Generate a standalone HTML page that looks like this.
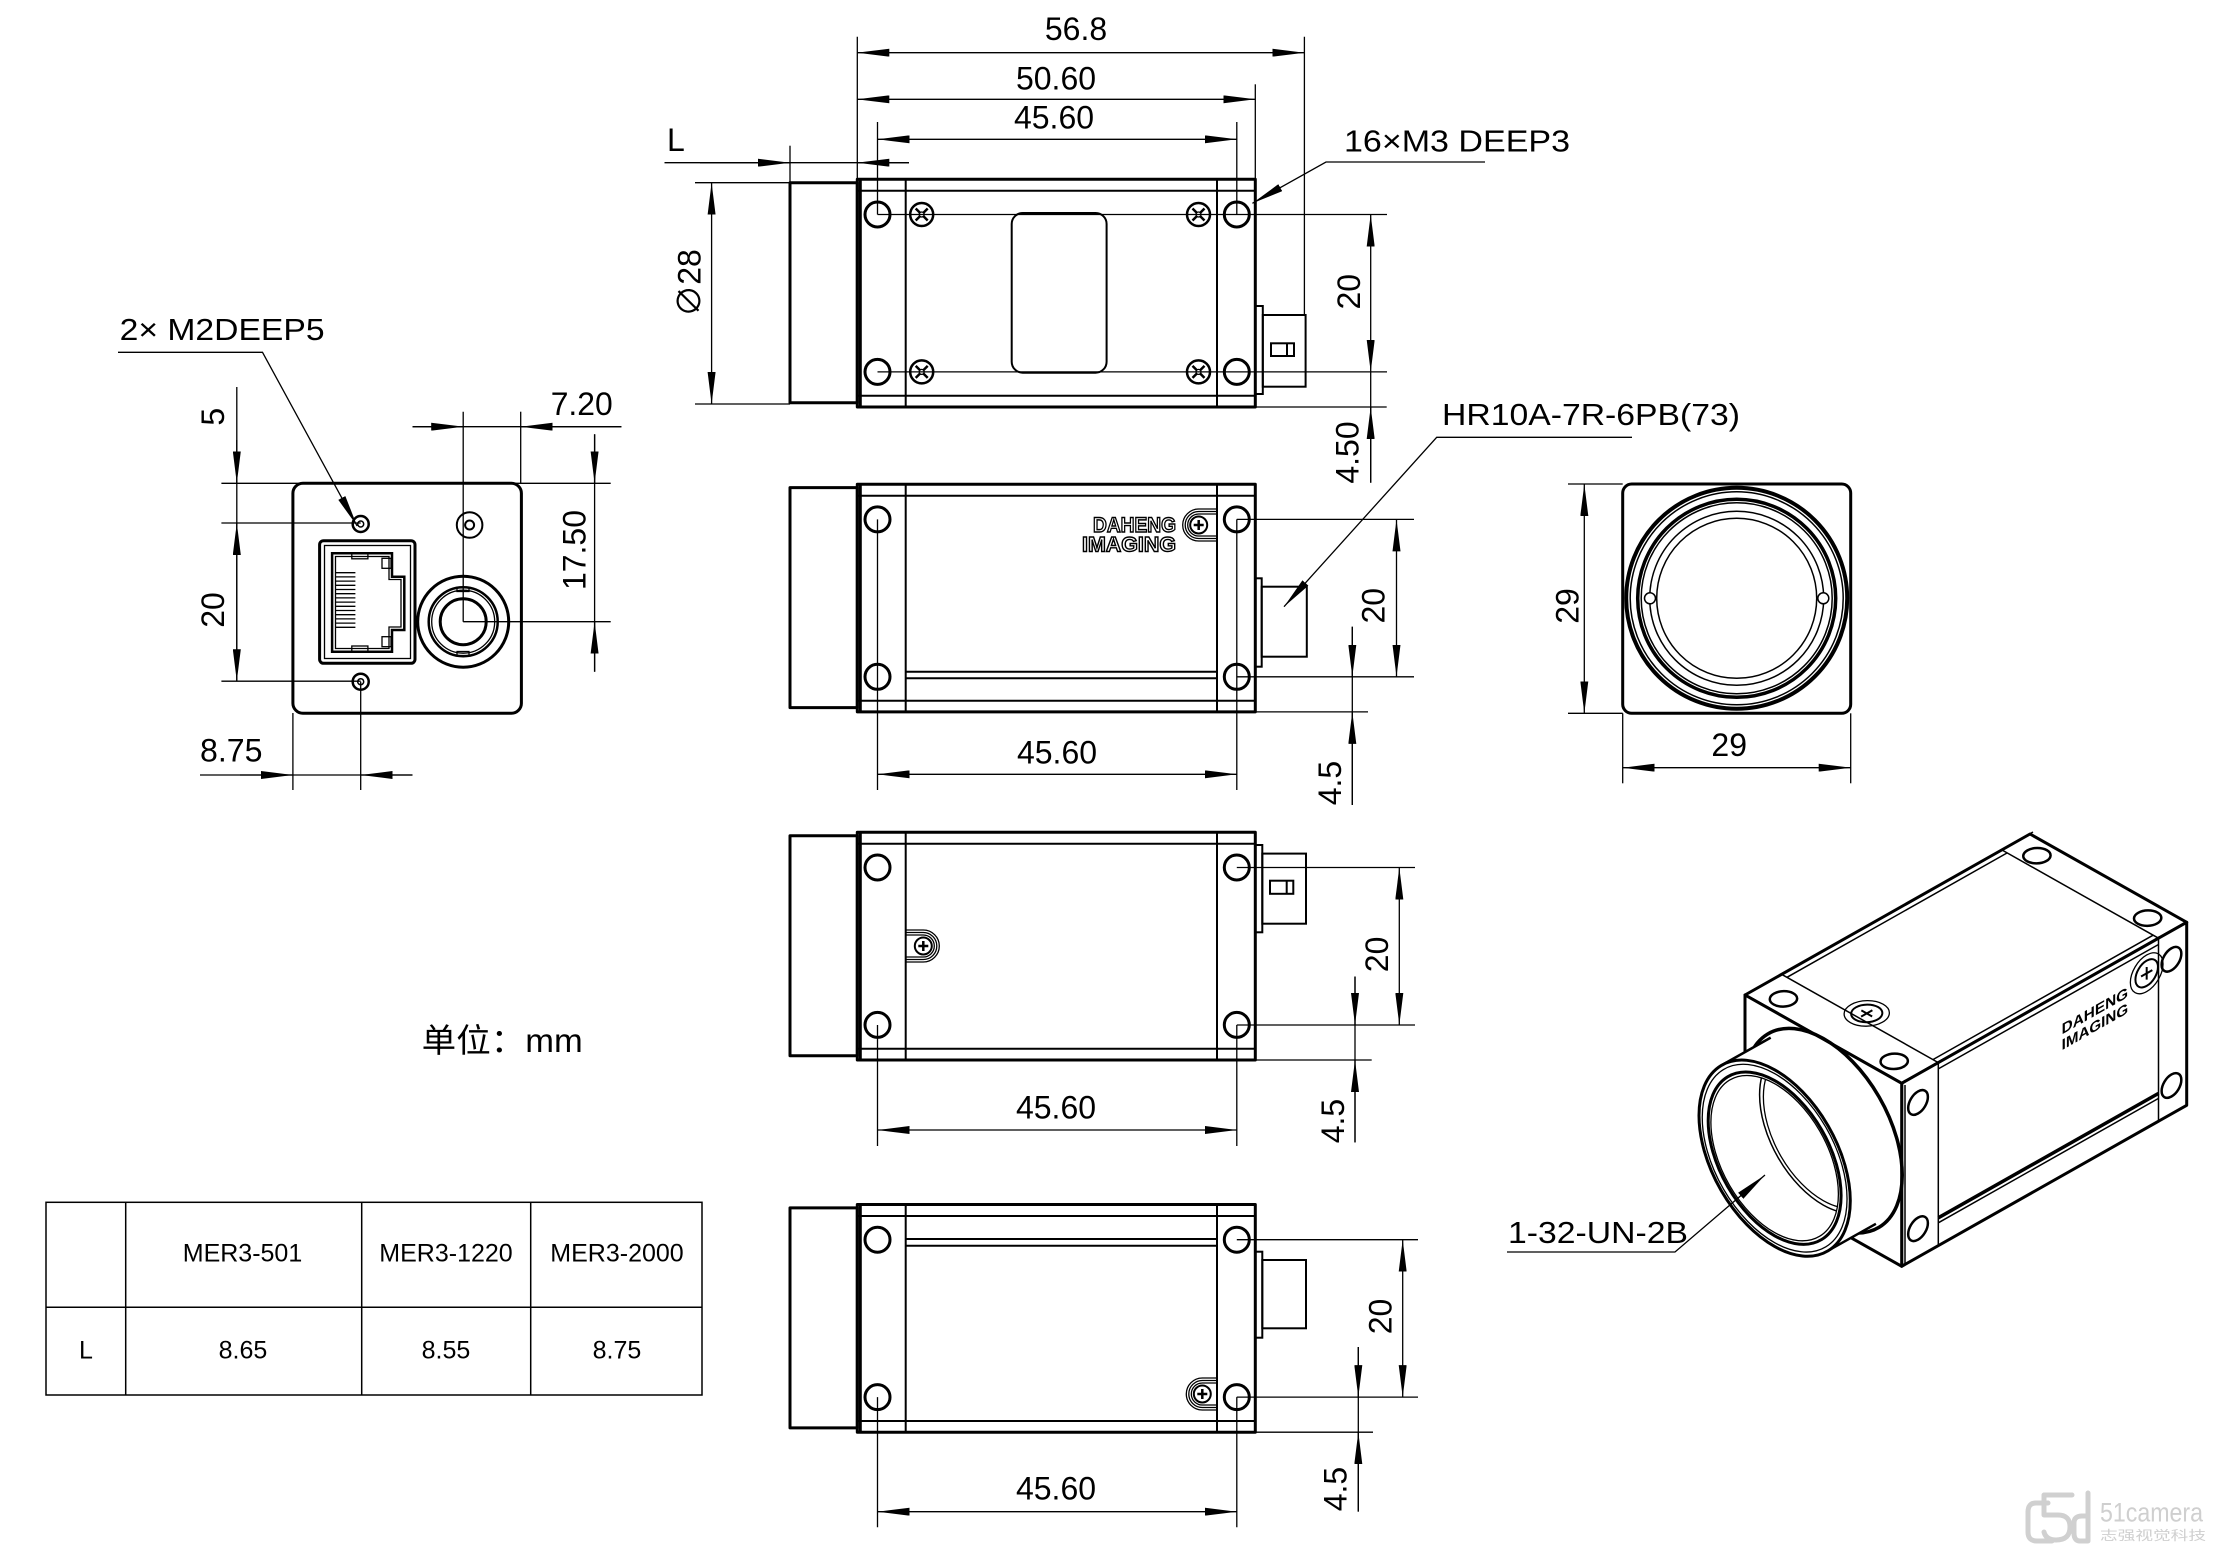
<!DOCTYPE html>
<html><head><meta charset="utf-8"><title>Camera dimension drawing</title>
<style>
html,body{margin:0;padding:0;background:#fff;}
svg{display:block;}
text{font-family:"Liberation Sans","Noto Sans CJK SC",sans-serif;fill:#000;}
.k{fill:none;stroke:#000;stroke-width:3;stroke-linejoin:round;}
.kw{fill:#fff;stroke:#000;stroke-width:3;stroke-linejoin:round;}
.m{fill:none;stroke:#000;stroke-width:2;}
.t{fill:none;stroke:#000;stroke-width:1.3;}
.d{font-size:32px;}
.lb{font-size:31px;}
.tb{font-size:25px;}
</style></head><body>
<svg width="2218" height="1553" viewBox="0 0 2218 1553" xmlns="http://www.w3.org/2000/svg">
<defs>
<marker id="ar" markerUnits="userSpaceOnUse" markerWidth="32" markerHeight="8" viewBox="0 0 32 8" refX="32" refY="4" orient="auto-start-reverse"><path d="M0,0L32,4L0,8z" fill="#000"/></marker>
<g id="s1"><circle r="11.5" fill="#fff" stroke="#000" stroke-width="2.5"/><path d="M-6,-6L6,6M-6,6L6,-6" stroke="#000" stroke-width="2.5"/><circle r="2.5" fill="#fff" stroke="#000" stroke-width="1.3"/></g>
<g id="s2"><circle r="8.5" fill="#fff" stroke="#000" stroke-width="2"/><path d="M-5,0H5M0,-5V5" stroke="#000" stroke-width="2.5"/></g>
<g id="body">
<rect x="790" y="3.4" width="67.3" height="220" class="k"/>
<rect x="857.3" y="0" width="398" height="227.7" class="k"/>
<line x1="860.3" y1="0" x2="860.3" y2="227.7" stroke="#000" stroke-width="3"/>
<line x1="857.3" y1="11.5" x2="1255.3" y2="11.5" class="m"/>
<line x1="857.3" y1="216.5" x2="1255.3" y2="216.5" class="m"/>
<line x1="905.7" y1="0" x2="905.7" y2="227.7" class="m"/>
<line x1="1217" y1="0" x2="1217" y2="227.7" class="m"/>
<circle cx="877.5" cy="35.2" r="12.5" class="k"/>
<circle cx="877.5" cy="192.6" r="12.5" class="k"/>
<circle cx="1236.8" cy="35.2" r="12.5" class="k"/>
<circle cx="1236.8" cy="192.6" r="12.5" class="k"/>
</g>
<clipPath id="lc"><circle cx="14.5" cy="14.5" r="11.8" transform="matrix(5.403 3.045 0 6.31 1696.3 1022.5)"/></clipPath>
</defs>

<!-- ================= TOP VIEW ================= -->
<g transform="translate(0,179.3)">
<use href="#body"/>
<rect x="1011.7" y="33.7" width="94.9" height="159.7" rx="11" class="m"/>
<use href="#s1" x="921.7" y="35.2"/>
<use href="#s1" x="1198.5" y="35.2"/>
<use href="#s1" x="921.7" y="192.6"/>
<use href="#s1" x="1198.5" y="192.6"/>
<rect x="1255.3" y="126.7" width="7.5" height="88" class="m"/>
<rect x="1262.8" y="135.7" width="42.8" height="71.7" class="m"/>
<rect x="1271" y="164" width="23" height="12.7" class="m"/>
<line x1="1287" y1="164" x2="1287" y2="176.7" class="m"/>
</g>
<g class="t">
<line x1="877.5" y1="214.5" x2="1387" y2="214.5"/>
<line x1="877.5" y1="371.9" x2="1387" y2="371.9"/>
<line x1="857.3" y1="36.7" x2="857.3" y2="179"/>
<line x1="1304.4" y1="36.7" x2="1304.4" y2="315"/>
<line x1="1255.3" y1="84.3" x2="1255.3" y2="179"/>
<line x1="877.5" y1="122" x2="877.5" y2="214.5"/>
<line x1="1236.8" y1="122" x2="1236.8" y2="214.5"/>
<line x1="857.3" y1="52.7" x2="1304.4" y2="52.7" marker-start="url(#ar)" marker-end="url(#ar)"/>
<line x1="857.3" y1="99.3" x2="1255.3" y2="99.3" marker-start="url(#ar)" marker-end="url(#ar)"/>
<line x1="877.5" y1="139.3" x2="1236.8" y2="139.3" marker-start="url(#ar)" marker-end="url(#ar)"/>
<!-- L -->
<line x1="664.5" y1="162.7" x2="909" y2="162.7"/>
<line x1="700" y1="162.7" x2="790" y2="162.7" marker-end="url(#ar)"/>
<line x1="909" y1="162.7" x2="857.3" y2="162.7" marker-end="url(#ar)"/>
<line x1="790" y1="145.7" x2="790" y2="182.7"/>
<!-- dia 28 -->
<line x1="695" y1="182.7" x2="790" y2="182.7"/>
<line x1="695" y1="404" x2="790" y2="404"/>
<line x1="711.6" y1="182.7" x2="711.6" y2="404" marker-start="url(#ar)" marker-end="url(#ar)"/>
<!-- 20 / 4.50 -->
<line x1="1370.7" y1="214.5" x2="1370.7" y2="371.9" marker-start="url(#ar)" marker-end="url(#ar)"/>
<line x1="1255.3" y1="407" x2="1386.7" y2="407"/>
<line x1="1370.7" y1="371.9" x2="1370.7" y2="482.7"/>
<line x1="1370.7" y1="482.7" x2="1370.7" y2="407" marker-end="url(#ar)"/>
<!-- 16xM3 leader -->
<polyline points="1485,162 1326,162 1252.4,203.3" marker-end="url(#ar)"/>
</g>
<text class="d" x="1076" y="40" text-anchor="middle">56.8</text>
<text class="d" x="1056" y="89.3" text-anchor="middle">50.60</text>
<text class="d" x="1054" y="128.3" text-anchor="middle">45.60</text>
<text class="d" x="667" y="151">L</text>
<text class="d" x="689" y="294.5" text-anchor="middle" transform="rotate(-90 689 283)">∅28</text>
<text class="d" x="1348.3" y="303.2" text-anchor="middle" transform="rotate(-90 1348.3 291.7)">20</text>
<text class="d" x="1347" y="464" text-anchor="middle" transform="rotate(-90 1347 452.5)">4.50</text>
<text class="lb" x="1344" y="151.5" textLength="226" lengthAdjust="spacingAndGlyphs">16×M3 DEEP3</text>

<!-- ================= REAR VIEW ================= -->
<rect x="292.9" y="483.3" width="228.5" height="230" rx="10" class="k"/>
<circle cx="360.7" cy="524" r="8" fill="none" stroke="#000" stroke-width="2.5"/>
<circle cx="360.7" cy="524" r="3" fill="none" stroke="#000" stroke-width="1.5"/>
<circle cx="360.7" cy="681.7" r="8" fill="none" stroke="#000" stroke-width="2.5"/>
<circle cx="360.7" cy="681.7" r="3" fill="none" stroke="#000" stroke-width="1.5"/>
<circle cx="469.6" cy="525" r="12.8" fill="none" stroke="#000" stroke-width="2"/>
<circle cx="469.6" cy="525" r="4.5" fill="none" stroke="#000" stroke-width="2"/>
<!-- RJ45 -->
<rect x="319.6" y="540.7" width="95.4" height="122.6" rx="4" class="k"/>
<rect x="324.5" y="545.5" width="86" height="113" class="t"/>
<path d="M332.1,553.3H392V576.7H404.3V630H392V651.7H332.1Z" fill="none" stroke="#000" stroke-width="2.5"/>
<path d="M335.5,556.5H389V579.5H401V627H389V648.5H335.5Z" class="t"/>
<rect x="351.8" y="553.3" width="16.1" height="5.5" class="t"/>
<rect x="351.8" y="646" width="16.1" height="5.7" class="t"/>
<rect x="382" y="558.3" width="9" height="10" class="t"/>
<rect x="382" y="636.7" width="9" height="10" class="t"/>
<path d="M335.7,572.7H355.4M335.7,576.9H355.4M335.7,581.1H355.4M335.7,585.3H355.4M335.7,589.5H355.4M335.7,593.7H355.4M335.7,597.9H355.4M335.7,602.1H355.4M335.7,606.3H355.4M335.7,610.5H355.4M335.7,614.7H355.4M335.7,618.9H355.4M335.7,623.1H355.4M335.7,627.3H355.4" class="t"/>
<!-- round connector -->
<circle cx="463.2" cy="621.7" r="45.5" fill="none" stroke="#000" stroke-width="3"/>
<circle cx="463.2" cy="621.7" r="34.5" fill="none" stroke="#000" stroke-width="2.5"/>
<circle cx="463.2" cy="621.7" r="31.5" class="t"/>
<circle cx="463.2" cy="621.7" r="23" fill="none" stroke="#000" stroke-width="3"/>
<rect x="457" y="587.5" width="12" height="4" class="t"/>
<rect x="457" y="651.5" width="12" height="4" class="t"/>
<g class="t">
<line x1="463.2" y1="411.7" x2="463.2" y2="621.7"/>
<line x1="463.2" y1="621.7" x2="610.7" y2="621.7"/>
<line x1="221.4" y1="483.3" x2="610.7" y2="483.3"/>
<line x1="221.4" y1="523" x2="360.7" y2="523"/>
<line x1="221.4" y1="681.2" x2="360.7" y2="681.2"/>
<line x1="520.7" y1="411.7" x2="520.7" y2="483.3"/>
<line x1="292.9" y1="713" x2="292.9" y2="790"/>
<line x1="360.7" y1="681.7" x2="360.7" y2="790"/>
<!-- 5 / 20 -->
<line x1="236.8" y1="387" x2="236.8" y2="681.2"/>
<line x1="236.8" y1="440" x2="236.8" y2="483.3" marker-end="url(#ar)"/>
<line x1="236.8" y1="523" x2="236.8" y2="681.2" marker-start="url(#ar)" marker-end="url(#ar)"/>
<!-- 7.20 -->
<line x1="412.5" y1="426.7" x2="621.4" y2="426.7"/>
<line x1="412.5" y1="426.7" x2="463.2" y2="426.7" marker-end="url(#ar)"/>
<line x1="621.4" y1="426.7" x2="520.7" y2="426.7" marker-end="url(#ar)"/>
<!-- 17.50 -->
<line x1="594.6" y1="434.3" x2="594.6" y2="671.7"/>
<line x1="594.6" y1="434.3" x2="594.6" y2="483.3" marker-end="url(#ar)"/>
<line x1="594.6" y1="671.7" x2="594.6" y2="621.7" marker-end="url(#ar)"/>
<!-- 8.75 -->
<line x1="200" y1="775" x2="412.5" y2="775"/>
<line x1="240" y1="775" x2="292.9" y2="775" marker-end="url(#ar)"/>
<line x1="412.5" y1="775" x2="360.7" y2="775" marker-end="url(#ar)"/>
<!-- leader -->
<polyline points="118,352.3 262.5,352.3 357.1,526" marker-end="url(#ar)"/>
</g>
<text class="lb" x="119.6" y="340" textLength="205" lengthAdjust="spacingAndGlyphs">2× M2DEEP5</text>
<text class="d" x="212.5" y="428.2" text-anchor="middle" transform="rotate(-90 212.5 416.7)">5</text>
<text class="d" x="212.5" y="621.5" text-anchor="middle" transform="rotate(-90 212.5 610)">20</text>
<text class="d" x="574" y="561.5" text-anchor="middle" transform="rotate(-90 574 550)">17.50</text>
<text class="d" x="550.7" y="415" textLength="62" lengthAdjust="spacingAndGlyphs">7.20</text>
<text class="d" x="200" y="761.7" textLength="62.5" lengthAdjust="spacingAndGlyphs">8.75</text>

<!-- ================= VIEW 2 ================= -->
<g transform="translate(0,484.2)">
<use href="#body"/>
<line x1="905.7" y1="187.5" x2="1217" y2="187.5" class="m"/>
<line x1="905.7" y1="194.1" x2="1217" y2="194.1" class="m"/>
<path d="M1217,29.8H1198.7A11,11 0 0 0 1198.7,51.8H1217M1217,27.3H1198.7A13.5,13.5 0 0 0 1198.7,54.3H1217M1217,24.8H1198.7A16,16 0 0 0 1198.7,56.8H1217" class="t"/>
<use href="#s2" x="1198.7" y="40.8"/>
<text x="1093" y="47.8" font-size="21" font-weight="bold" textLength="83" lengthAdjust="spacingAndGlyphs" style="fill:#fff;stroke:#000;stroke-width:1.4">DAHENG</text>
<text x="1082" y="67.5" font-size="21" font-weight="bold" textLength="94" lengthAdjust="spacingAndGlyphs" style="fill:#fff;stroke:#000;stroke-width:1.4">IMAGING</text>
<rect x="1255.3" y="94.1" width="6.4" height="88.4" class="m"/>
<rect x="1261.7" y="102.5" width="45.1" height="70" class="m"/>
</g>
<g class="t">
<line x1="1236.8" y1="519.4" x2="1414" y2="519.4"/>
<line x1="1236.8" y1="676.8" x2="1414" y2="676.8"/>
<line x1="1255.3" y1="711.9" x2="1368" y2="711.9"/>
<line x1="877.5" y1="519.4" x2="877.5" y2="790"/>
<line x1="1236.8" y1="519.4" x2="1236.8" y2="790"/>
<line x1="1396.5" y1="519.4" x2="1396.5" y2="676.8" marker-start="url(#ar)" marker-end="url(#ar)"/>
<line x1="1352.3" y1="626.7" x2="1352.3" y2="805"/>
<line x1="1352.3" y1="626.7" x2="1352.3" y2="676.8" marker-end="url(#ar)"/>
<line x1="1352.3" y1="805" x2="1352.3" y2="711.9" marker-end="url(#ar)"/>
<line x1="877.5" y1="774.3" x2="1236.8" y2="774.3" marker-start="url(#ar)" marker-end="url(#ar)"/>
<polyline points="1632,437.3 1436.7,437.3 1284,606.7" marker-end="url(#ar)"/>
</g>
<text class="d" x="1057" y="763.3" text-anchor="middle">45.60</text>
<text class="d" x="1373" y="617.2" text-anchor="middle" transform="rotate(-90 1373 605.7)">20</text>
<text class="d" x="1329.5" y="794.5" text-anchor="middle" transform="rotate(-90 1329.5 783)">4.5</text>
<text class="lb" x="1442" y="425" textLength="298" lengthAdjust="spacingAndGlyphs">HR10A-7R-6PB(73)</text>

<!-- ================= VIEW 3 ================= -->
<g transform="translate(0,832.3)">
<use href="#body"/>
<path d="M905.7,102.7H923.3A11,11 0 0 1 923.3,124.7H905.7M905.7,100.2H923.3A13.5,13.5 0 0 1 923.3,127.2H905.7M905.7,97.7H923.3A16,16 0 0 1 923.3,129.7H905.7" class="t"/>
<use href="#s2" x="923.3" y="113.7"/>
<rect x="1255.3" y="12.7" width="7" height="87.3" class="m"/>
<rect x="1262.3" y="21.3" width="43.7" height="70.1" class="m"/>
<rect x="1270" y="48.4" width="23.3" height="13.1" class="m"/>
<line x1="1286.7" y1="48.4" x2="1286.7" y2="61.5" class="m"/>
</g>
<g class="t">
<line x1="1236.8" y1="867.5" x2="1415" y2="867.5"/>
<line x1="1236.8" y1="1025" x2="1415" y2="1025"/>
<line x1="1255.3" y1="1060" x2="1371.7" y2="1060"/>
<line x1="877.5" y1="1025" x2="877.5" y2="1146"/>
<line x1="1236.8" y1="1025" x2="1236.8" y2="1146"/>
<line x1="1399.3" y1="867.5" x2="1399.3" y2="1025" marker-start="url(#ar)" marker-end="url(#ar)"/>
<line x1="1355" y1="976.5" x2="1355" y2="1142.4"/>
<line x1="1355" y1="976.5" x2="1355" y2="1025" marker-end="url(#ar)"/>
<line x1="1355" y1="1142.4" x2="1355" y2="1060" marker-end="url(#ar)"/>
<line x1="877.5" y1="1130" x2="1236.8" y2="1130" marker-start="url(#ar)" marker-end="url(#ar)"/>
</g>
<text class="d" x="1056" y="1118.3" text-anchor="middle">45.60</text>
<text class="d" x="1376.7" y="965.9" text-anchor="middle" transform="rotate(-90 1376.7 954.4)">20</text>
<text class="d" x="1332.5" y="1132.5" text-anchor="middle" transform="rotate(-90 1332.5 1121)">4.5</text>

<!-- ================= VIEW 4 ================= -->
<g transform="translate(0,1204.5)">
<use href="#body"/>
<line x1="905.7" y1="34.5" x2="1217" y2="34.5" class="m"/>
<line x1="905.7" y1="41.2" x2="1217" y2="41.2" class="m"/>
<path d="M1217,178.5H1202.3A11,11 0 0 0 1202.3,200.5H1217M1217,176H1202.3A13.5,13.5 0 0 0 1202.3,203H1217M1217,173.5H1202.3A16,16 0 0 0 1202.3,205.5H1217" class="t"/>
<use href="#s2" x="1202.3" y="189.5"/>
<rect x="1255.3" y="47.2" width="7" height="86" class="m"/>
<rect x="1262.3" y="55.5" width="43.7" height="68.3" class="m"/>
</g>
<g class="t">
<line x1="1236.8" y1="1239.7" x2="1418" y2="1239.7"/>
<line x1="1236.8" y1="1397.1" x2="1418" y2="1397.1"/>
<line x1="1255.3" y1="1432.2" x2="1373" y2="1432.2"/>
<line x1="877.5" y1="1397.1" x2="877.5" y2="1527.3"/>
<line x1="1236.8" y1="1397.1" x2="1236.8" y2="1527.3"/>
<line x1="1402.7" y1="1239.7" x2="1402.7" y2="1397.1" marker-start="url(#ar)" marker-end="url(#ar)"/>
<line x1="1358.3" y1="1347" x2="1358.3" y2="1511.6"/>
<line x1="1358.3" y1="1347" x2="1358.3" y2="1397.1" marker-end="url(#ar)"/>
<line x1="1358.3" y1="1511.6" x2="1358.3" y2="1432.2" marker-end="url(#ar)"/>
<line x1="877.5" y1="1511.7" x2="1236.8" y2="1511.7" marker-start="url(#ar)" marker-end="url(#ar)"/>
</g>
<text class="d" x="1056" y="1499.3" text-anchor="middle">45.60</text>
<text class="d" x="1380" y="1328" text-anchor="middle" transform="rotate(-90 1380 1316.5)">20</text>
<text class="d" x="1335" y="1500.5" text-anchor="middle" transform="rotate(-90 1335 1489)">4.5</text>

<!-- ================= FRONT VIEW ================= -->
<rect x="1622.7" y="484" width="228" height="229.3" rx="9" class="k"/>
<circle cx="1736.7" cy="598.3" r="110.5" fill="none" stroke="#000" stroke-width="4"/>
<circle cx="1736.7" cy="598.3" r="106.5" fill="none" stroke="#000" stroke-width="1.5"/>
<circle cx="1736.7" cy="598.3" r="99" fill="none" stroke="#000" stroke-width="3.5"/>
<circle cx="1736.7" cy="598.3" r="95.5" fill="none" stroke="#000" stroke-width="1.5"/>
<circle cx="1736.7" cy="598.3" r="87" fill="none" stroke="#000" stroke-width="1.5"/>
<circle cx="1736.7" cy="598.3" r="80" fill="none" stroke="#000" stroke-width="1.5"/>
<circle cx="1650" cy="598.3" r="5.5" fill="#fff" stroke="#000" stroke-width="1.5"/>
<circle cx="1823.3" cy="598.3" r="5.5" fill="#fff" stroke="#000" stroke-width="1.5"/>
<g class="t">
<line x1="1568" y1="484" x2="1622.7" y2="484"/>
<line x1="1568" y1="713.3" x2="1622.7" y2="713.3"/>
<line x1="1584.3" y1="484" x2="1584.3" y2="713.3" marker-start="url(#ar)" marker-end="url(#ar)"/>
<line x1="1622.7" y1="713.3" x2="1622.7" y2="783.3"/>
<line x1="1850.7" y1="713.3" x2="1850.7" y2="783.3"/>
<line x1="1622.7" y1="767.7" x2="1850.7" y2="767.7" marker-start="url(#ar)" marker-end="url(#ar)"/>
</g>
<text class="d" x="1729.2" y="756" text-anchor="middle">29</text>
<text class="d" x="1567" y="617.5" text-anchor="middle" transform="rotate(-90 1567 606)">29</text>

<!-- ================= ISOMETRIC VIEW ================= -->
<polygon points="1745,995 1901.7,1083.3 2186.7,922.3 2030,834" class="kw"/>
<polygon points="1901.7,1083.3 2186.7,922.3 2186.7,1105.3 1901.7,1266.3" class="kw"/>
<polygon points="1745,995 1901.7,1083.3 1901.7,1266.3 1745,1178" class="kw"/>
<g fill="none" stroke="#000" stroke-width="1.5">
<line x1="1781.6" y1="974.3" x2="1938.3" y2="1062.6"/>
<line x1="1938.3" y1="1062.6" x2="1938.3" y2="1245.6"/>
<line x1="2001.8" y1="849.9" x2="2158.5" y2="938.2"/>
<line x1="2158.5" y1="938.2" x2="2158.5" y2="1121.2"/>
<line x1="1787" y1="977.3" x2="2007.2" y2="852.9"/>
<line x1="1932.9" y1="1059.6" x2="2153.1" y2="935.2"/>
<line x1="1938.3" y1="1068.9" x2="2158.5" y2="944.5"/>
<line x1="1938.3" y1="1222.8" x2="2158.5" y2="1098.4"/>
<line x1="1905" y1="1085" x2="1905" y2="1264.5"/>
<line x1="1750" y1="992" x2="2033" y2="832"/>
</g>
<line x1="1938.3" y1="1217.8" x2="2158.5" y2="1093.4" stroke="#000" stroke-width="3.5"/>
<!-- top face -->
<g transform="matrix(5.403 3.045 5.632 -3.182 1745 995)">
<circle cx="4.2" cy="2.8" r="1.75" fill="none" stroke="#000" stroke-width="2.5" vector-effect="non-scaling-stroke"/>
<circle cx="24.7" cy="2.8" r="1.75" fill="none" stroke="#000" stroke-width="2.5" vector-effect="non-scaling-stroke"/>
<circle cx="4.2" cy="47.8" r="1.75" fill="none" stroke="#000" stroke-width="2.5" vector-effect="non-scaling-stroke"/>
<circle cx="24.7" cy="47.8" r="1.75" fill="none" stroke="#000" stroke-width="2.5" vector-effect="non-scaling-stroke"/>
<circle cx="14.3" cy="7.9" r="2.9" fill="none" stroke="#000" stroke-width="1.3" vector-effect="non-scaling-stroke"/>
<circle cx="14.3" cy="7.9" r="2" fill="none" stroke="#000" stroke-width="2" vector-effect="non-scaling-stroke"/>
<path d="M13.3,7.9H15.3M14.3,6.9V8.9" fill="none" stroke="#000" stroke-width="2" vector-effect="non-scaling-stroke"/>
</g>
<!-- right face -->
<g transform="matrix(5.632 -3.182 0 6.31 1901.7 1083.3)">
<circle cx="2.9" cy="4.5" r="1.75" fill="none" stroke="#000" stroke-width="2.5" vector-effect="non-scaling-stroke"/>
<circle cx="2.9" cy="24.5" r="1.75" fill="none" stroke="#000" stroke-width="2.5" vector-effect="non-scaling-stroke"/>
<circle cx="47.9" cy="4.5" r="1.75" fill="none" stroke="#000" stroke-width="2.5" vector-effect="non-scaling-stroke"/>
<circle cx="47.9" cy="24.5" r="1.75" fill="none" stroke="#000" stroke-width="2.5" vector-effect="non-scaling-stroke"/>
<circle cx="43.5" cy="4.5" r="2.9" fill="none" stroke="#000" stroke-width="1.3" vector-effect="non-scaling-stroke"/>
<circle cx="43.5" cy="4.5" r="2" fill="none" stroke="#000" stroke-width="2" vector-effect="non-scaling-stroke"/>
<path d="M42.5,4.5H44.5M43.5,3.5V5.5" fill="none" stroke="#000" stroke-width="2" vector-effect="non-scaling-stroke"/>
</g>
<g transform="matrix(0.5632 -0.3182 0 0.631 1901.7 1083.3)">
<text x="284" y="66" font-size="24" font-weight="bold" textLength="118" lengthAdjust="spacingAndGlyphs">DAHENG</text>
<text x="284" y="91" font-size="24" font-weight="bold" textLength="118" lengthAdjust="spacingAndGlyphs">IMAGING</text>
</g>
<!-- mount ring on front face -->
<g transform="matrix(5.403 3.045 0 6.31 1745 995)">
<circle cx="14.5" cy="14.5" r="14.6" fill="none" stroke="#000" stroke-width="3.5" vector-effect="non-scaling-stroke"/>
<circle cx="14.5" cy="14.5" r="14" fill="#fff" stroke="none"/>
</g>
<!-- lens barrel -->
<polygon points="1722,1065 1770.7,1037.6 1875.9,1223.8 1827.2,1251.2" fill="#fff" stroke="none"/>
<line x1="1722" y1="1065" x2="1770.7" y2="1037.6" stroke="#000" stroke-width="2.5"/>
<line x1="1827.2" y1="1251.2" x2="1875.9" y2="1223.8" stroke="#000" stroke-width="2.5"/>
<g transform="matrix(5.403 3.045 0 6.31 1696.3 1022.5)">
<circle cx="14.5" cy="14.5" r="14" fill="#fff" stroke="#000" stroke-width="3" vector-effect="non-scaling-stroke"/>
<circle cx="14.5" cy="14.5" r="13.4" fill="none" stroke="#000" stroke-width="1.3" vector-effect="non-scaling-stroke"/>
<circle cx="14.5" cy="14.5" r="12.3" fill="none" stroke="#000" stroke-width="3" vector-effect="non-scaling-stroke"/>
<circle cx="14.5" cy="14.5" r="11.8" fill="none" stroke="#000" stroke-width="1.3" vector-effect="non-scaling-stroke"/>
</g>
<g clip-path="url(#lc)">
<g transform="matrix(5.403 3.045 0 6.31 1745 995)">
<circle cx="14.5" cy="14.5" r="11.8" fill="none" stroke="#000" stroke-width="1.5" vector-effect="non-scaling-stroke"/>
<circle cx="14.5" cy="14.5" r="11.1" fill="none" stroke="#000" stroke-width="1.3" vector-effect="non-scaling-stroke"/>
</g>
</g>
<polyline points="1507,1252 1675,1252 1765,1175" class="t" marker-end="url(#ar)"/>
<text class="lb" x="1508" y="1243" textLength="180" lengthAdjust="spacingAndGlyphs">1-32-UN-2B</text>

<!-- ================= UNIT ================= -->
<text x="421.7" y="1052" font-size="33" textLength="161" lengthAdjust="spacingAndGlyphs">单位：mm</text>

<!-- ================= TABLE ================= -->
<g fill="none" stroke="#000" stroke-width="1.5">
<rect x="46" y="1202.3" width="656" height="192.7"/>
<line x1="46" y1="1307.3" x2="702" y2="1307.3"/>
<line x1="125.7" y1="1202.3" x2="125.7" y2="1395"/>
<line x1="361.7" y1="1202.3" x2="361.7" y2="1395"/>
<line x1="530.7" y1="1202.3" x2="530.7" y2="1395"/>
</g>
<text class="tb" x="242.5" y="1261.7" text-anchor="middle">MER3-501</text>
<text class="tb" x="446" y="1261.7" text-anchor="middle">MER3-1220</text>
<text class="tb" x="617" y="1261.7" text-anchor="middle">MER3-2000</text>
<text class="tb" x="86" y="1358.3" text-anchor="middle">L</text>
<text class="tb" x="243" y="1358.3" text-anchor="middle">8.65</text>
<text class="tb" x="446" y="1358.3" text-anchor="middle">8.55</text>
<text class="tb" x="617" y="1358.3" text-anchor="middle">8.75</text>

<!-- ================= WATERMARK ================= -->
<g fill="none" stroke="#d0d0d0" stroke-width="5" stroke-linecap="round" stroke-linejoin="round">
<path d="M2048,1503H2036Q2028,1503 2028,1512V1532Q2028,1541 2037,1541H2052"/>
<path d="M2072,1495H2044V1515H2058Q2070,1515 2070,1527Q2070,1540 2056,1540Q2046,1540 2044,1532"/>
<path d="M2088,1493V1541H2080Q2074,1541 2074,1533V1523Q2074,1516 2082,1516H2088"/>
</g>
<text x="2100" y="1521.7" font-size="27" textLength="103" lengthAdjust="spacingAndGlyphs" style="fill:#cfcfcf">51camera</text>
<text x="2100" y="1540" font-size="13" textLength="106" lengthAdjust="spacingAndGlyphs" style="fill:#cfcfcf">志强视觉科技</text>
</svg>
</body></html>
